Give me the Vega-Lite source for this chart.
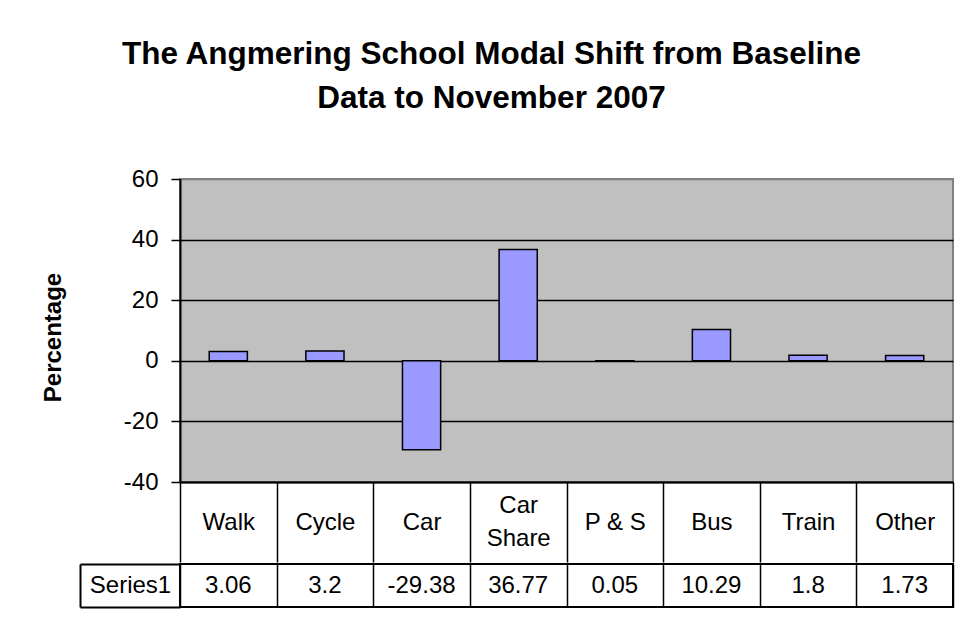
{
  "$schema": "https://vega.github.io/schema/vega-lite/v6.json",
  "background": "white",
  "padding": {"left": 40, "top": 38, "right": 0, "bottom": 0},
  "title": {
    "text": ["The Angmering School Modal Shift from Baseline", "Data to November 2007"],
    "font": "Liberation Sans",
    "fontSize": 31.5,
    "fontWeight": "bold",
    "color": "#000000",
    "lineHeight": 44,
    "anchor": "middle",
    "dx": -6,
    "offset": 52
  },
  "data": {
    "values": [
      {"mode": "Walk", "value": 3.06, "series": "Series1"},
      {"mode": "Cycle", "value": 3.2, "series": "Series1"},
      {"mode": "Car", "value": -29.38, "series": "Series1"},
      {"mode": "Car Share", "value": 36.77, "series": "Series1"},
      {"mode": "P & S", "value": 0.05, "series": "Series1"},
      {"mode": "Bus", "value": 10.29, "series": "Series1"},
      {"mode": "Train", "value": 1.8, "series": "Series1"},
      {"mode": "Other", "value": 1.73, "series": "Series1"}
    ]
  },
  "spacing": -13,
  "vconcat": [
    {
      "width": 773,
      "height": 303,
      "view": {"fill": "#C0C0C0", "stroke": "#808080", "strokeWidth": 2},
      "mark": {"type": "bar", "fill": "#9999FF", "stroke": "#000000", "strokeWidth": 1.5, "width": {"band": 0.395}},
      "encoding": {
        "x": {
          "field": "mode",
          "type": "nominal",
          "sort": null,
          "scale": {"paddingInner": 0, "paddingOuter": 0},
          "axis": {
            "title": null,
            "labelAngle": 0,
            "tickBand": "extent",
            "tickSize": 80,
            "tickColor": "#000000",
            "tickWidth": 1.5,
            "domainColor": "#000000",
            "domainWidth": 2,
            "labelPadding": {"condition": {"test": "datum.value == 'Car Share'", "value": -56.5}, "value": -40},
            "labelBaseline": "middle",
            "labelFont": "Liberation Sans",
            "labelFontSize": 24,
            "labelColor": "#000000",
            "labelLineHeight": 33,
            "labelFlush": false,
            "labelOverlap": false,
            "labelExpr": "datum.value == 'Car Share' ? ['Car', 'Share'] : datum.value"
          }
        },
        "y": {
          "field": "value",
          "type": "quantitative",
          "scale": {"domain": [-40, 60], "nice": false, "zero": true},
          "axis": {
            "values": [-40, -20, 0, 20, 40, 60],
            "title": "Percentage",
            "titleFont": "Liberation Sans",
            "titleFontSize": 24,
            "titleFontWeight": "bold",
            "titleColor": "#000000",
            "titlePadding": 58,
            "titleY": 158,
            "grid": true,
            "gridColor": {"condition": {"test": "datum.value == 60", "value": "#808080"}, "value": "#000000"},
            "gridWidth": 1.5,
            "domainColor": "#000000",
            "domainWidth": 2,
            "tickColor": "#000000",
            "tickWidth": 1.5,
            "tickSize": 9,
            "labelPadding": 13,
            "labelFont": "Liberation Sans",
            "labelFontSize": 24,
            "labelColor": "#000000",
            "labelExpr": "toString(datum.value)"
          }
        }
      }
    },
    {
      "width": 773,
      "height": 43,
      "view": {"fill": "white", "stroke": "#000000", "strokeWidth": 2},
      "mark": {"type": "text", "font": "Liberation Sans", "fontSize": 24, "color": "#000000"},
      "encoding": {
        "x": {
          "field": "mode",
          "type": "nominal",
          "sort": null,
          "scale": {"paddingInner": 0, "paddingOuter": 0},
          "axis": {
            "title": null,
            "labels": false,
            "ticks": false,
            "domain": false,
            "grid": true,
            "gridColor": "#000000",
            "gridWidth": 1.5,
            "tickBand": "extent"
          }
        },
        "y": {
          "field": "series",
          "type": "nominal",
          "scale": {"paddingInner": 0, "paddingOuter": 0},
          "axis": {
            "title": null,
            "offset": 100,
            "tickSize": -100,
            "tickBand": "extent",
            "tickColor": "#000000",
            "tickWidth": 2,
            "domainColor": "#000000",
            "domainWidth": 2,
            "labelPadding": 50,
            "labelAlign": "center",
            "labelBaseline": "middle",
            "labelFont": "Liberation Sans",
            "labelFontSize": 24,
            "labelColor": "#000000"
          }
        },
        "text": {"field": "value", "type": "nominal"}
      }
    }
  ]
}
